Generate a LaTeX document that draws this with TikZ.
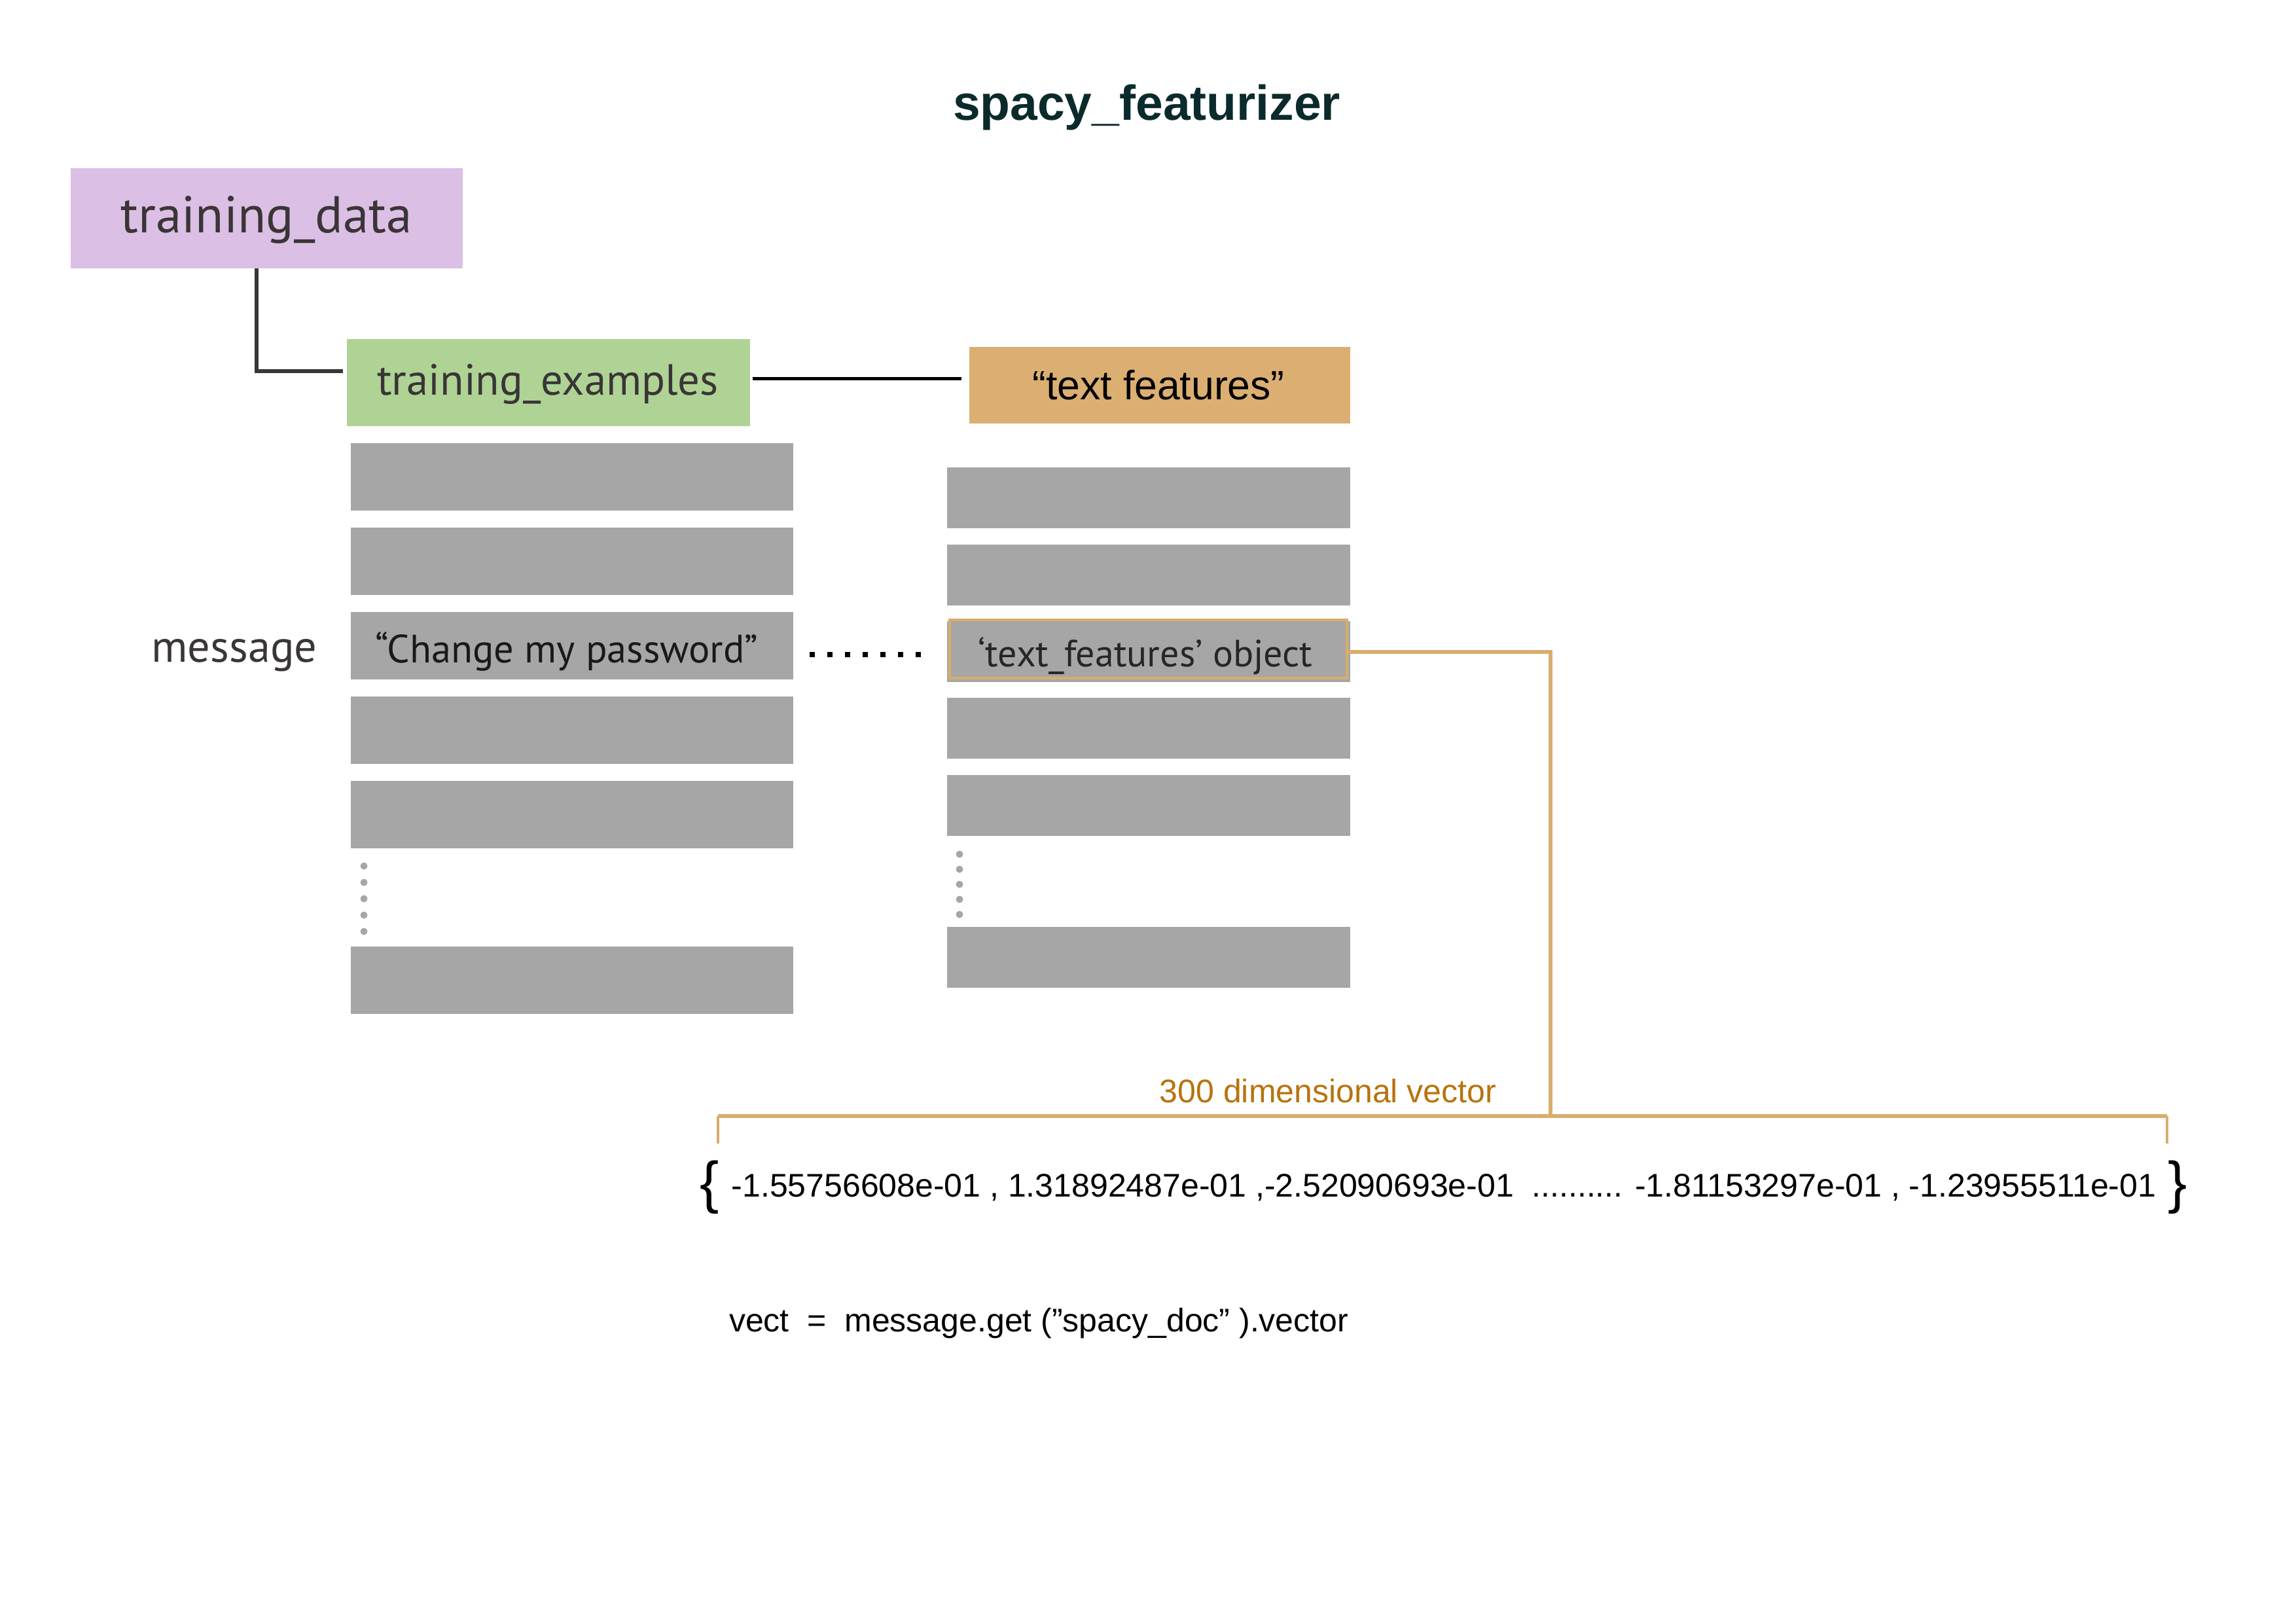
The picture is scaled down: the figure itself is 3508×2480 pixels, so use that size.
\documentclass[tikz,border=0pt]{standalone}
\usepackage{fontspec}
\setmainfont{Liberation Sans}
\newfontfamily\hum{PT Sans}
\definecolor{tdfill}{HTML}{DCBFE4}
\definecolor{tefill}{HTML}{AED394}
\definecolor{tffill}{HTML}{DBAF72}
\definecolor{barfill}{HTML}{A6A6A6}
\definecolor{orng}{HTML}{D9AD6E}
\definecolor{orngtxt}{HTML}{B8730E}
\definecolor{titlec}{HTML}{0B2A2C}
\definecolor{humtxt}{HTML}{3A3536}
\tikzset{
  blk/.style={inner sep=0pt, outer sep=0pt, draw=none},
  lbar/.style={blk, fill=barfill, minimum width=676*0.24pt, minimum height=103*0.24pt},
  rbar/.style={blk, fill=barfill, minimum width=616*0.24pt, minimum height=93*0.24pt},
  gdot/.style={fill=barfill, draw=none},
  humfont/.style={font=\hum\fontsize{17}{20}\selectfont, text=humtxt},
}
\begin{document}
\begin{tikzpicture}[x=0.24pt, y=-0.24pt]
\useasboundingbox (0,0) rectangle (3508,2480);
% title
\node[blk, font=\bfseries\fontsize{18}{22}\selectfont, text=titlec] (title) at (1752,164) {spacy\_featurizer};
% header boxes
\node[blk, fill=tdfill, minimum width=599*0.24pt, minimum height=153*0.24pt] (td) at (407.5,333.5) {};
\node[humfont, font=\hum\fontsize{19}{22}\selectfont] (tdl) at (407,336) {training\_data};
\node[blk, fill=tefill, minimum width=616*0.24pt, minimum height=133*0.24pt] (te) at (838,584.5) {};
\node[humfont, font=\hum\fontsize{16}{20}\selectfont] (tel) at (837,587) {training\_examples};
\node[blk, fill=tffill, minimum width=582*0.24pt, minimum height=117*0.24pt] (tf) at (1772,588.5) {};
\node[blk, font=\fontsize{15}{18}\selectfont] (tfl) at (1770,588) {“text features”};
% connectors
\coordinate (k) at (392,567);
\draw[line width=1.4pt, color=humtxt] (td.south -| k) -- (k) -- ([xshift=-6*0.24pt]k -| te.west);
\draw[line width=1.2pt, black] ([xshift=4*0.24pt]te.east |- 0,578) -- ([xshift=-12*0.24pt]tf.west |- 0,578);
% left bars
\node[lbar] (l1) at (874,728.5) {};
\node[lbar] (l2) at (874,857.5) {};
\node[lbar] (l3) at (874,986.5) {};
\node[lbar] (l4) at (874,1115.5) {};
\node[lbar] (l5) at (874,1244.5) {};
\node[lbar] (l6) at (874,1497.5) {};
\node[blk, font=\hum\fontsize{14.5}{18}\selectfont, text=black!90] (cmp) at (866,995) {“Change my password”};
\node[humfont, font=\hum\fontsize{16.4}{20}\selectfont] (msg) at (358,1001) {message};
\foreach \yy in {1323,1348,1373,1398,1423} \fill[gdot] (556,\yy) circle (5.5);
% right bars
\node[rbar] (r1) at (1755,760.5) {};
\node[rbar] (r2) at (1755,878.5) {};
\node[rbar] (r3) at (1755,995) {};
\node[rbar] (r4) at (1755,1112.5) {};
\node[rbar] (r5) at (1755,1230.5) {};
\node[rbar] (r6) at (1755,1462.5) {};
\node[blk, draw=orng, line width=1pt, minimum width=607*0.24pt, minimum height=89*0.24pt] (obj) at (1754.5,991.5) {};
\node[blk, font=\hum\fontsize{13.9}{18}\selectfont, text=black!85] (objl) at (1750,1002) {‘text\_features’ object};
\foreach \yy in {1305,1328,1351,1374,1397} \fill[gdot] (1466,\yy) circle (5.5);
% dotted link
\draw[line width=8*0.24pt, black, dash pattern=on 8*0.24pt off 19*0.24pt] (1237,1000) -- (1407,1000);
% orange connector and bracket
\coordinate (bj) at (2369,1705);
\coordinate (bl) at (1097,1705);
\coordinate (br) at (3311,1705);
\draw[line width=1.3pt, orng] (obj.east |- 0,996) -| (bj);
\draw[line width=1.5pt, orng] (bl) -- (br);
\draw[line width=1.1pt, orng] (bl) -- ++(0,42);
\draw[line width=1.1pt, orng] (br) -- ++(0,42);
\node[blk, font=\fontsize{12}{14}\selectfont, text=orngtxt] (dim) at (2029,1667) {300 dimensional vector};
% vector
\node[blk, font=\fontsize{12}{14}\selectfont] (vec) at (2206,1814) {-1.55756608e-01 , 1.31892487e-01 ,-2.52090693e-01 \ .......... -1.81153297e-01 , -1.23955511e-01};
\node[blk, font=\fontsize{21}{24}\selectfont] (lb) at (1084,1814) {\{};
\node[blk, font=\fontsize{21}{24}\selectfont] (rb) at (3327,1814) {\}};
\node[blk, font=\fontsize{12}{14}\selectfont, anchor=west] (code) at (1114,2022) {vect \ = \ message.get (”spacy\_doc” ).vector};
\end{tikzpicture}
\end{document}
